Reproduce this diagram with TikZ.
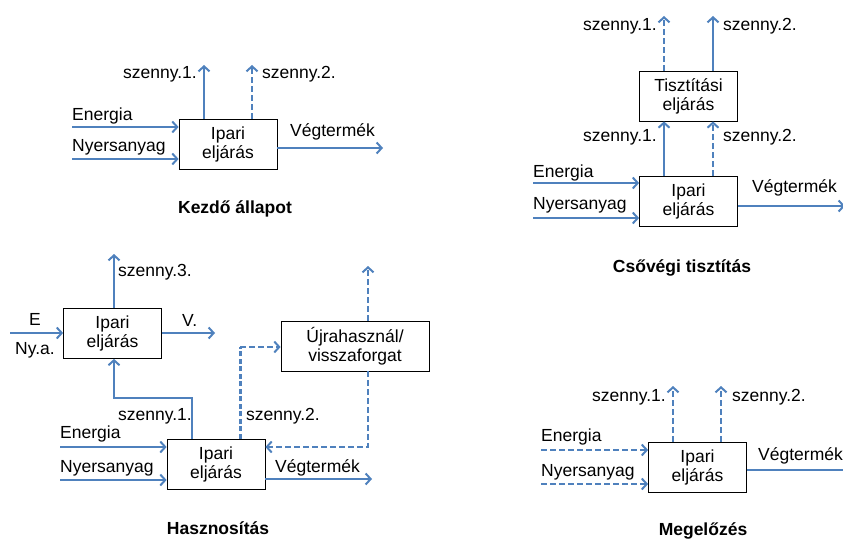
\documentclass[tikz,border=0pt]{standalone}
\usepackage{fontspec}
\setmainfont{Liberation Sans}
\usetikzlibrary{arrows.meta}
\definecolor{flow}{HTML}{4F81BD}
\begin{document}
\begin{tikzpicture}[x=1pt,y=-1pt,
  every node/.style={font=\fontsize{17.5}{19}\selectfont, inner sep=0pt},
  procbox/.style={draw=black, line width=0.8pt, fill=white, minimum width=98pt, minimum height=50pt, align=center},
  lbl/.style={anchor=base west},
  ttl/.style={anchor=base, font=\fontsize{17.5}{19}\selectfont\bfseries},
  arr/.style={draw=flow, line width=2pt, -{Straight Barb[length=5pt,width=11pt]}},
  darr/.style={arr, dash pattern=on 6pt off 3pt},
  dline/.style={draw=flow, line width=2pt, dash pattern=on 6pt off 3pt},
  sline/.style={draw=flow, line width=2pt}]
\useasboundingbox (0,0) rectangle (843,540);

% ---------- Panel 1: Kezdo allapot ----------
\node[procbox] (k1) at (228,144) {Ipari\\eljárás};
\coordinate (k1e) at (72,127);
\coordinate (k1n) at (72,159);
\coordinate (k1a) at (204,65);
\coordinate (k1b) at (252,65);
\coordinate (k1v) at (383,148);
\draw[arr] (k1e) -- (k1.west |- k1e);
\draw[arr] (k1n) -- (k1.west |- k1n);
\draw[arr] (k1.north -| k1a) -- (k1a);
\draw[darr] (k1.north -| k1b) -- (k1b);
\draw[arr] (k1.east |- k1v) -- (k1v);
\node[lbl] (k1te) at (72,121) {Energia};
\node[lbl] (k1tn) at (72,152) {Nyersanyag};
\node[lbl] (k1t1) at (123,79) {szenny.1.};
\node[lbl] (k1t2) at (262,79) {szenny.2.};
\node[lbl] (k1tv) at (290,137) {Végtermék};
\node[ttl] (k1t) at (235,214) {Kezdő állapot};

% ---------- Panel 2: Csovegi tisztitas ----------
\node[procbox] (c1) at (688.5,201.5) {Ipari\\eljárás};
\node[procbox] (c2) at (688.5,96) {Tisztítási\\eljárás};
\coordinate (c1e) at (533,183);
\coordinate (c1n) at (533,218);
\coordinate (c1v) at (845,206);
\coordinate (c2a) at (664,16);
\coordinate (c2b) at (713,16);
\draw[arr] (c1e) -- (c1.west |- c1e);
\draw[arr] (c1n) -- (c1.west |- c1n);
\draw[arr] (c1.east |- c1v) -- (c1v);
\draw[arr] (c1.north -| c2a) -- (c2.south -| c2a);
\draw[darr] (c1.north -| c2b) -- (c2.south -| c2b);
\draw[darr] (c2.north -| c2a) -- (c2a);
\draw[arr] (c2.north -| c2b) -- (c2b);
\node[lbl] (c1te) at (533,178) {Energia};
\node[lbl] (c1tn) at (533,210) {Nyersanyag};
\node[lbl] (c1tv) at (752,193) {Végtermék};
\node[lbl] (c1t1) at (583,142) {szenny.1.};
\node[lbl] (c1t2) at (723,142) {szenny.2.};
\node[lbl] (c2t1) at (583,31) {szenny.1.};
\node[lbl] (c2t2) at (723,31) {szenny.2.};
\node[ttl] (c2t) at (682,272) {Csővégi tisztítás};

% ---------- Panel 3: Hasznositas ----------
\node[procbox] (h1) at (112.5,333.5) {Ipari\\eljárás};
\node[procbox, minimum width=148pt] (hu) at (355,346) {Újrahasznál/\\visszaforgat};
\node[procbox] (h2) at (216,464) {Ipari\\eljárás};
\coordinate (h1e) at (10,333);
\coordinate (h1s) at (114,254);
\coordinate (h1v) at (215,333);
\coordinate (hup) at (368,266);
\coordinate (h2e) at (60,447);
\coordinate (h2n) at (60,480);
\coordinate (h2v) at (372,479);
\coordinate (hs1) at (192,398);
\coordinate (hs1b) at (114,398);
\coordinate (hs2) at (240,347);
\coordinate (hr) at (368,447);
\draw[arr] (h1e) -- (h1.west |- h1e);
\draw[arr] (h1.north -| h1s) -- (h1s);
\draw[arr] (h1.east |- h1v) -- (h1v);
\draw[darr] (hu.north -| hup) -- (hup);
\draw[arr] (h2e) -- (h2.west |- h2e);
\draw[arr] (h2n) -- (h2.west |- h2n);
\draw[arr] (h2.east |- h2v) -- (h2v);
\draw[arr] (h2.north -| hs1) -- (hs1) -- (hs1b) -- (h1.south -| hs1b);
\draw[dline, line width=3pt, dash pattern=on 5pt off 2.5pt] (h2.north -| hs2) -- (hs2);
\draw[darr] (hs2) -- (hu.west |- hs2);
\draw[darr] (hu.south -| hr) -- (hr) -- (h2.east |- hr);
\node[lbl] (h1te) at (29,325) {E};
\node[lbl] (h1tn) at (15,354) {Ny.a.};
\node[lbl] (h1ts) at (118,276) {szenny.3.};
\node[lbl] (h1tv) at (182,326) {V.};
\node[lbl] (h2t1) at (118,420) {szenny.1.};
\node[lbl] (h2t2) at (246,420) {szenny.2.};
\node[lbl] (h2te) at (60,438) {Energia};
\node[lbl] (h2tn) at (60,472) {Nyersanyag};
\node[lbl] (h2tv) at (275,472) {Végtermék};
\node[ttl] (ht) at (218,534) {Hasznosítás};

% ---------- Panel 4: Megelozes ----------
\node[procbox] (m1) at (697.5,467) {Ipari\\eljárás};
\coordinate (m1e) at (541,450);
\coordinate (m1n) at (541,484);
\coordinate (m1a) at (673,386);
\coordinate (m1b) at (721,386);
\coordinate (m1v) at (850,470);
\draw[darr] (m1e) -- (m1.west |- m1e);
\draw[darr] (m1n) -- (m1.west |- m1n);
\draw[darr] (m1.north -| m1a) -- (m1a);
\draw[darr] (m1.north -| m1b) -- (m1b);
\draw[sline] (m1.east |- m1v) -- (m1v);
\node[lbl] (m1te) at (541,441) {Energia};
\node[lbl] (m1tn) at (541,476) {Nyersanyag};
\node[lbl] (m1t1) at (592,401) {szenny.1.};
\node[lbl] (m1t2) at (732,401) {szenny.2.};
\node[lbl] (m1tv) at (758,460) {Végtermék};
\node[ttl] (mt) at (703,535) {Megelőzés};
\end{tikzpicture}
\end{document}
